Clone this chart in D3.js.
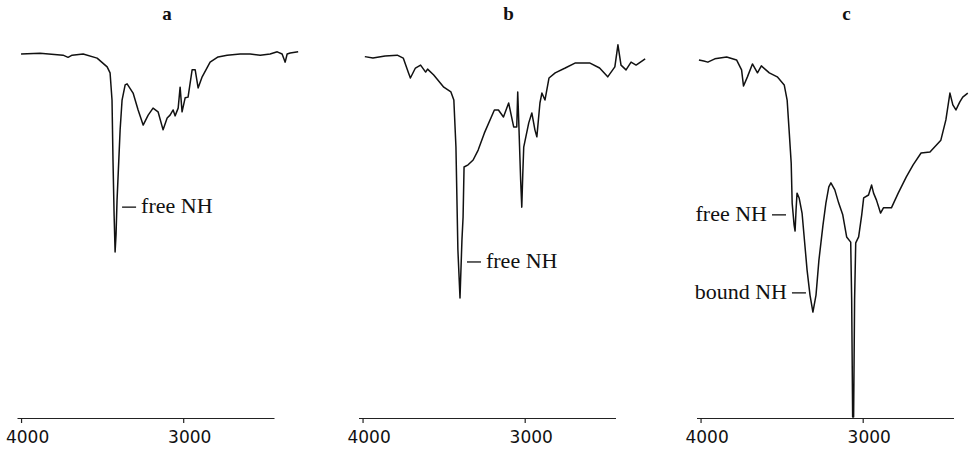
<!DOCTYPE html>
<html>
<head>
<meta charset="utf-8">
<script src="https://cdn.jsdelivr.net/npm/d3@7"></script>
<style>
  body { margin: 0; background: #fff; }
  svg { display: block; }
  .trace { fill: none; stroke: #111; stroke-width: 1.5; stroke-linejoin: round; }
  .axis path, .axis line { stroke: #222; stroke-width: 1.2; }
  .axis text { font-family: "DejaVu Sans", sans-serif; font-size: 17px; fill: #111; }
  .title { font-family: "Liberation Serif", serif; font-weight: bold; font-size: 19px; fill: #111; }
  .note { font-family: "Liberation Serif", serif; font-size: 22px; fill: #111; }
  .note-line { stroke: #111; stroke-width: 1.3; }
</style>
</head>
<body>
<script>

// IR spectra, wavenumber (cm-1) vs transmittance (%)
var panels = ["a", "b", "c"];
var tickValues = [4000, 3000];

var spectrumA = [
    [4000, 98.9], [3883, 99.1], [3741, 98.6], [3710, 98.0], [3685, 98.6], [3617, 98.9],
    [3531, 97.8], [3469, 95.4], [3451, 93.8], [3439, 86.4], [3433, 70.1], [3426, 55],
    [3420, 45.1], [3414, 50], [3408, 59.2], [3389, 78.3], [3377, 86.4], [3358, 90.5],
    [3346, 90.8], [3309, 88.3], [3278, 83.7], [3247, 79.6], [3216, 82.3], [3186, 84.2],
    [3155, 83.2], [3124, 78.3], [3099, 81.5], [3081, 82.3], [3062, 83.7], [3050, 82.1],
    [3031, 84.2], [3019, 89.9], [3007, 83.2], [2988, 87.0], [2970, 87.2], [2945, 94.6],
    [2926, 94.6], [2908, 89.7], [2883, 92.7], [2834, 96.7], [2785, 98.1], [2729, 98.6],
    [2649, 98.9], [2587, 98.9], [2525, 98.6], [2464, 98.9], [2420, 99.5], [2390, 98.9],
    [2371, 96.7], [2359, 98.9], [2340, 99.2], [2291, 99.5]
];

var spectrumB = [
    [3986, 98.2], [3936, 97.8], [3861, 98.4], [3786, 98.6], [3749, 97.8], [3717, 93.8],
    [3705, 92.4], [3674, 95.1], [3642, 95.9], [3611, 94.0], [3599, 94.8], [3561, 93.2],
    [3499, 89.9], [3455, 88.6], [3437, 86.4], [3424, 73.6], [3412, 45.7], [3399, 32.6],
    [3387, 48.4], [3380, 54.6], [3374, 68.2], [3349, 68.8], [3318, 70.1], [3287, 72.8],
    [3249, 77.4], [3187, 83.7], [3162, 83.7], [3131, 81.8], [3099, 85.6], [3068, 79.1],
    [3049, 79.1], [3043, 88.6], [3037, 81.0], [3025, 64.7], [3018, 57.3], [3012, 66.0],
    [3006, 73.6], [2975, 80.2], [2956, 82.9], [2937, 78.3], [2925, 76.4], [2906, 85.6],
    [2894, 88.3], [2875, 86.4], [2850, 92.4], [2812, 93.8], [2750, 95.1], [2687, 96.5],
    [2600, 96.5], [2538, 95.1], [2488, 92.7], [2444, 95.4], [2425, 101.4], [2406, 95.9],
    [2375, 94.6], [2344, 96.7], [2313, 95.9], [2257, 97.6]
];

var spectrumC = [
    [4010, 97.3], [3980, 97.0], [3955, 96.7], [3912, 97.6], [3839, 98.1], [3778, 97.3],
    [3747, 94.6], [3735, 90.2], [3711, 92.7], [3680, 96.2], [3649, 93.8], [3625, 95.7],
    [3576, 93.8], [3527, 92.7], [3484, 90.5], [3466, 86.4], [3454, 78.3], [3441, 69.3],
    [3435, 58.4], [3423, 52.4], [3417, 50.8], [3411, 56.5], [3405, 61.1], [3392, 59.8],
    [3374, 55.7], [3343, 40.2], [3325, 33.4], [3307, 28.8], [3288, 33.4], [3270, 42.9],
    [3245, 52.4], [3227, 58.4], [3209, 62.8], [3196, 63.9], [3172, 62.0], [3148, 58.4],
    [3123, 55.2], [3099, 49.2], [3074, 47.8], [3068, 32.1], [3062, 0.3], [3056, 0.3],
    [3050, 32.1], [3043, 47.6], [3025, 49.2], [3006, 55.2], [2994, 59.8], [2964, 60.6],
    [2945, 63.3], [2933, 61.1], [2915, 59.2], [2890, 55.7], [2872, 57.1], [2823, 57.1],
    [2781, 61.1], [2731, 65.5], [2689, 68.8], [2640, 72.0], [2585, 72.3], [2518, 75.5],
    [2487, 81.0], [2462, 88.3], [2444, 85.1], [2425, 83.7], [2413, 84.8], [2401, 85.9],
    [2383, 87.2], [2352, 88.3]
];

// band labels: panel, label, wavenumber and transmittance where the leader sits, side
var noteText  = ["free NH", "free NH", "free NH", "bound NH"];
var notePanel = ["a", "b", "c", "c"];
var noteWn    = [3377, 3356, 3473, 3350];
var noteT     = [57.3, 42.4, 55.2, 34.0];
var noteSide  = ["right", "right", "left", "left"];

var spectra = { a: spectrumA, b: spectrumB, c: spectrumC };
var offsets = { a: 17, b: 358.5, c: 696.5 };

var width = 970, height = 451;

var svg = d3.select("body").append("svg")
    .attr("width", width)
    .attr("height", height);

var x = d3.scaleLinear().domain([4025, 2440]).range([0, 257]);
var y = d3.scaleLinear().domain([0, 100]).range([418, 50]);

var line = d3.line()
    .x(function (d) { return x(d[0]); })
    .y(function (d) { return y(d[1]); })
    .curve(d3.curveLinear);

var axis = d3.axisBottom(x)
    .tickValues(tickValues)
    .tickSize(5)
    .tickSizeOuter(0)
    .tickPadding(4)
    .tickFormat(d3.format("d"));

panels.forEach(function (name) {

    var g = svg.append("g").attr("transform", "translate(" + offsets[name] + ",0)");

    g.append("text")
        .attr("class", "title")
        .attr("x", x(3100))
        .attr("y", 20)
        .attr("text-anchor", "middle")
        .text(name);

    g.append("g")
        .attr("class", "axis")
        .attr("transform", "translate(0," + y(0) + ")")
        .call(axis)
        .call(function (s) {
            s.selectAll(".tick text").attr("dy", "0.95em").attr("dx", 6);
        });

    g.append("path")
        .attr("class", "trace")
        .attr("d", line(spectra[name]));

    noteText.forEach(function (t, i) {

        if (notePanel[i] !== name) return;

        var px = x(noteWn[i]), py = y(noteT[i]);
        var dir = noteSide[i] === "right" ? 1 : -1;

        g.append("line")
            .attr("class", "note-line")
            .attr("x1", px)
            .attr("x2", px + dir * 14)
            .attr("y1", py)
            .attr("y2", py);

        g.append("text")
            .attr("class", "note")
            .attr("x", px + dir * 19)
            .attr("y", py + 6)
            .attr("text-anchor", dir > 0 ? "start" : "end")
            .text(t);
    });
});

</script>
</body>
</html>
